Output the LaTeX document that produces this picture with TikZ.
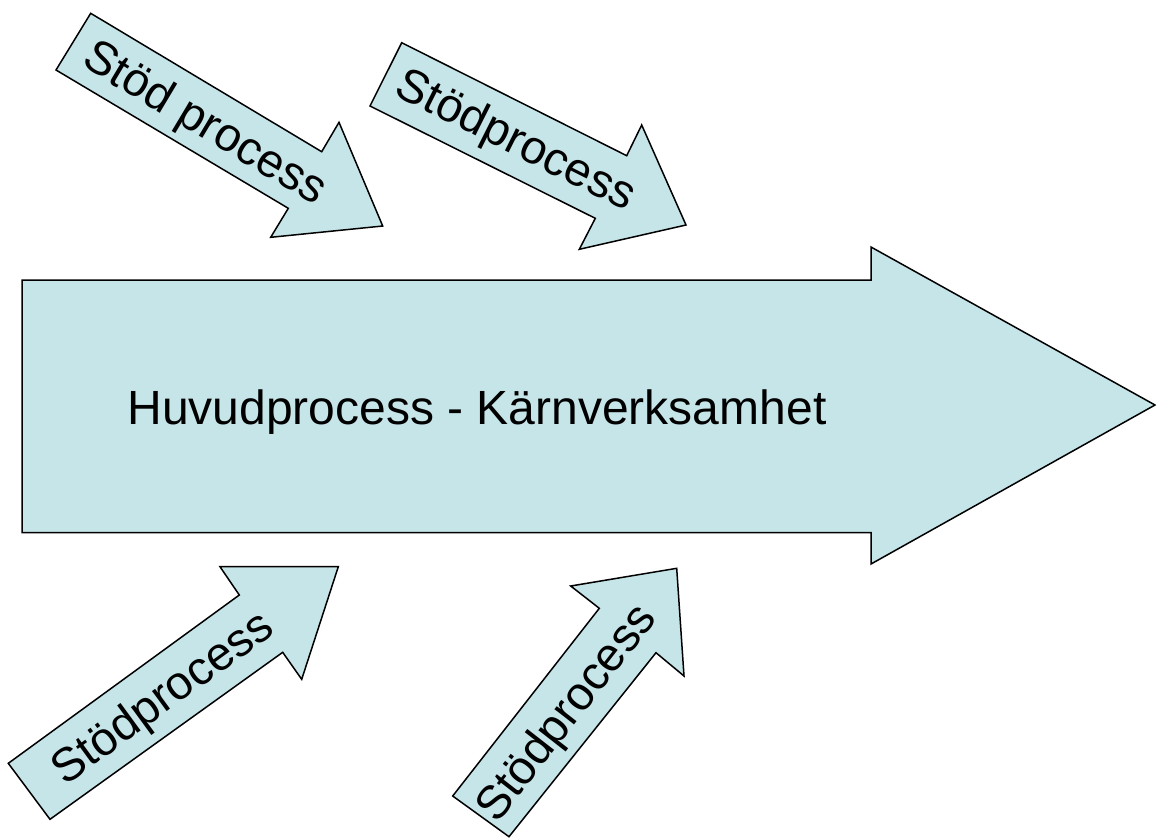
\documentclass[tikz,border=0pt]{standalone}
\usepackage{fontspec}
\setmainfont{Liberation Sans}
\definecolor{procfill}{RGB}{198,229,233}
\begin{document}
\begin{tikzpicture}[x=1pt,y=-1pt,
  shapeline/.style={draw=black,line width=1.5pt,fill=procfill,line join=miter},
  bigtext/.style={font=\fontsize{48}{58}\selectfont,inner sep=0pt},
  smalltext/.style={font=\fontsize{47}{56}\selectfont,inner sep=0pt}]
\useasboundingbox (0,0) rectangle (1156,839);
% main arrow
\path[shapeline] (22,280) -- (871,280) -- (871,247) -- (1155,405) -- (871,564) -- (871,532.5) -- (22,532.5) -- cycle;
\node[bigtext,anchor=base] (main) at (477,424) {Huvudprocess - Kärnverksamhet};
% arrow 1
\path[shapeline] (90.7,13.3) -- (321.7,151.7) -- (339,122.3) -- (382.7,226) -- (270.7,237.3) -- (288.3,208.3) -- (56,70) -- cycle;
\node[smalltext,rotate=-30.9] (s1) at (204,125) {Stöd process};
% arrow 2
\path[shapeline] (401.7,42.7) -- (626.7,155.7) -- (641.7,125) -- (686,225) -- (579.3,249.3) -- (595.3,218.3) -- (370,106) -- cycle;
\node[smalltext,rotate=-26.7] (s2) at (515,142) {Stödprocess};
% arrow 3
\path[shapeline] (8.3,763.3) -- (239.3,595) -- (220,566.7) -- (338.3,566.7) -- (301.7,679.3) -- (282.7,652.3) -- (50,819.3) -- cycle;
\node[smalltext,rotate=36.1] (s3) at (163.5,699.5) {Stödprocess};
% arrow 4
\path[shapeline] (452.7,796) -- (599.3,608.3) -- (570.7,586) -- (676.7,568.3) -- (684,676) -- (656,652.7) -- (509,836.7) -- cycle;
\node[smalltext,rotate=52] (s4) at (568,714) {Stödprocess};
\end{tikzpicture}
\end{document}
